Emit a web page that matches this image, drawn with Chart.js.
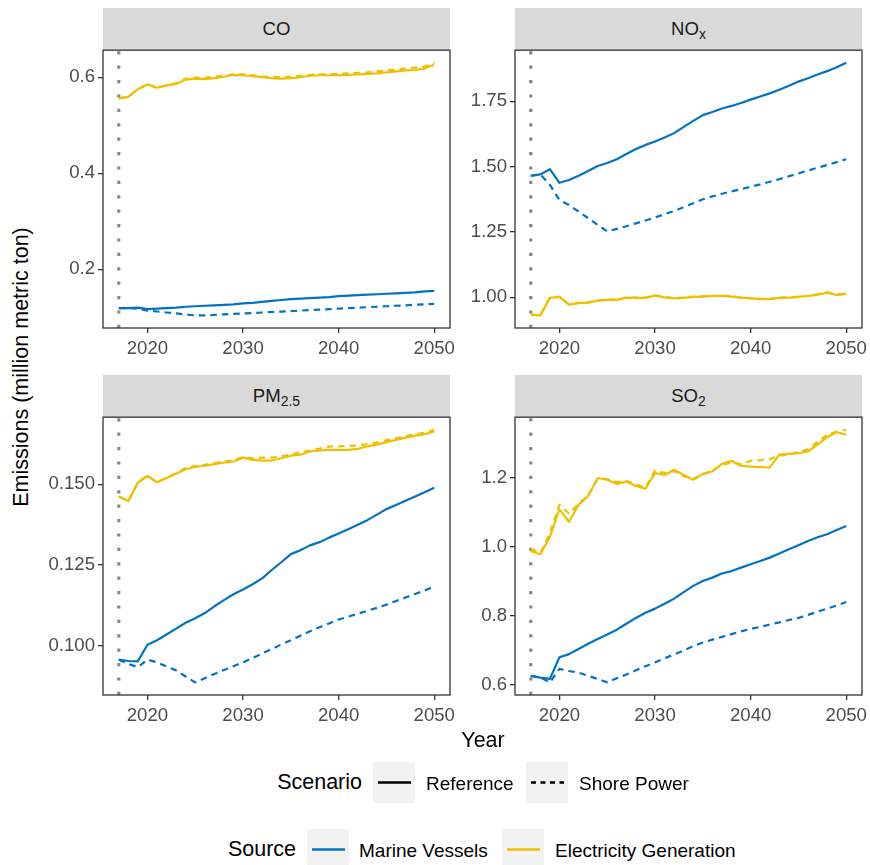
<!DOCTYPE html>
<html>
<head>
<meta charset="utf-8">
<script src="https://cdn.jsdelivr.net/npm/chart.js@4.4.1/dist/chart.umd.min.js"></script>
<style>
body { margin: 0; background: #fff; font-family: "Liberation Sans", Arial, sans-serif; }
#wrap { position: relative; width: 870px; height: 865px; overflow: hidden; background: #fff; }
.strip { position: absolute; background: #d9d9d9; color: #1a1a1a; font-size: 18.6px; text-align: center; }
.strip span { position: absolute; left: 0; right: 0; top: 50%; transform: translateY(-50%); line-height: 1; }
sub { font-size: 0.75em; vertical-align: -0.3em; line-height: 0; }
.pane { position: absolute; }
.txt { position: absolute; white-space: nowrap; color: #000; line-height: 1; transform: translateY(-50%); }
.txt.right { transform: translate(-100%, -50%); }
.key { position: absolute; background: #f2f2f2; width: 42px; height: 41px; }
.key svg { position: absolute; left: 0; top: 0; }
</style>
</head>
<body>
<div id="wrap">
  <div class="strip" style="left:103px;top:8px;width:347px;height:42px"><span>CO</span></div>
  <div class="strip" style="left:515px;top:8px;width:347px;height:42px"><span>NO<sub>x</sub></span></div>
  <div class="strip" style="left:103px;top:375px;width:347px;height:42px"><span>PM<sub>2.5</sub></span></div>
  <div class="strip" style="left:515px;top:375px;width:347px;height:42px"><span>SO<sub>2</sub></span></div>

  <div class="pane" id="p1"><canvas id="c1"></canvas></div>
  <div class="pane" id="p2"><canvas id="c2"></canvas></div>
  <div class="pane" id="p3"><canvas id="c3"></canvas></div>
  <div class="pane" id="p4"><canvas id="c4"></canvas></div>

  <div class="txt" style="left:22px;top:367px;font-size:21.5px;transform:translate(-50%,-50%) rotate(-90deg)">Emissions (million metric ton)</div>
  <div class="txt" style="left:483px;top:741px;font-size:21.5px;transform:translate(-50%,-50%)">Year</div>

  <div class="txt right" style="left:362px;top:783px;font-size:21.5px">Scenario</div>
  <div class="key" style="left:373px;top:762px"><svg width="42" height="41"><line x1="5" y1="20.5" x2="38" y2="20.5" stroke="#000" stroke-width="2.3"/></svg></div>
  <div class="txt" style="left:426px;top:783px;font-size:19px">Reference</div>
  <div class="key" style="left:526px;top:762px"><svg width="42" height="41"><line x1="5" y1="20.5" x2="38" y2="20.5" stroke="#000" stroke-width="2.3" stroke-dasharray="5 4.5"/></svg></div>
  <div class="txt" style="left:579px;top:783px;font-size:19px">Shore Power</div>

  <div class="txt right" style="left:296px;top:850px;font-size:21.5px">Source</div>
  <div class="key" style="left:307px;top:829px"><svg width="42" height="41"><line x1="5" y1="20.5" x2="38" y2="20.5" stroke="#0073C2" stroke-width="2.3"/></svg></div>
  <div class="txt" style="left:359px;top:850px;font-size:19px">Marine Vessels</div>
  <div class="key" style="left:502px;top:829px"><svg width="42" height="41"><line x1="5" y1="20.5" x2="38" y2="20.5" stroke="#EFC000" stroke-width="2.3"/></svg></div>
  <div class="txt" style="left:555px;top:850px;font-size:19px">Electricity Generation</div>
</div>

<script>
const years = [2017, 2018, 2019, 2020, 2021, 2022, 2023, 2024, 2025, 2026, 2027, 2028, 2029, 2030, 2031, 2032, 2033,
    2034, 2035, 2036, 2037, 2038, 2039, 2040, 2041, 2042, 2043, 2044, 2045, 2046, 2047, 2048, 2049, 2050];
const baseYear = 2017;
const xTicks = [2020, 2030, 2040, 2050];

// CO
const coMarineRef = [0.119, 0.119, 0.120, 0.117, 0.118, 0.119, 0.120, 0.122, 0.123, 0.124, 0.125, 0.126, 0.127, 0.129, 0.130, 0.132, 0.134,
    0.136, 0.138, 0.139, 0.140, 0.141, 0.142, 0.144, 0.145, 0.146, 0.147, 0.148, 0.149, 0.150, 0.151, 0.152, 0.154, 0.155];
const coMarineShore = [0.119, 0.119, 0.118, 0.114, 0.112, 0.110, 0.108, 0.106, 0.104, 0.104, 0.105, 0.106, 0.107, 0.108, 0.109, 0.110, 0.111,
    0.112, 0.113, 0.114, 0.115, 0.116, 0.117, 0.118, 0.119, 0.120, 0.121, 0.122, 0.123, 0.124, 0.125, 0.126, 0.127, 0.128];
const coElecRef = [0.556, 0.559, 0.575, 0.585, 0.578, 0.583, 0.586, 0.595, 0.597, 0.596, 0.598, 0.601, 0.605, 0.604, 0.602, 0.600, 0.598,
    0.597, 0.598, 0.600, 0.603, 0.604, 0.604, 0.604, 0.605, 0.606, 0.607, 0.608, 0.610, 0.612, 0.614, 0.615, 0.618, 0.626];
const coElecShore = [0.556, 0.559, 0.575, 0.585, 0.578, 0.583, 0.587, 0.597, 0.599, 0.599, 0.601, 0.603, 0.606, 0.606, 0.604, 0.602, 0.601,
    0.600, 0.601, 0.603, 0.605, 0.606, 0.606, 0.607, 0.608, 0.609, 0.610, 0.612, 0.614, 0.616, 0.618, 0.620, 0.622, 0.630];
const coTicks = [0.2, 0.4, 0.6];
const coTickLabels = ['0.2', '0.4', '0.6'];

// NOx
const noxMarineRef = [1.465, 1.470, 1.490, 1.438, 1.449, 1.465, 1.483, 1.502, 1.514, 1.528, 1.548, 1.567, 1.583, 1.596, 1.611, 1.628, 1.652,
    1.675, 1.697, 1.709, 1.722, 1.732, 1.743, 1.756, 1.768, 1.780, 1.794, 1.809, 1.825, 1.838, 1.852, 1.865, 1.880, 1.897];
const noxMarineShore = [1.465, 1.470, 1.430, 1.372, 1.353, 1.328, 1.303, 1.277, 1.252, 1.262, 1.272, 1.283, 1.294, 1.305, 1.318, 1.330, 1.345,
    1.360, 1.375, 1.386, 1.396, 1.405, 1.414, 1.423, 1.432, 1.442, 1.452, 1.463, 1.474, 1.485, 1.496, 1.506, 1.517, 1.528];
const noxElecRef = [0.934, 0.931, 0.998, 1.002, 0.972, 0.978, 0.980, 0.987, 0.990, 0.990, 0.998, 0.998, 0.998, 1.007, 1.000, 0.996, 0.998,
    1.002, 1.003, 1.005, 1.006, 1.003, 0.999, 0.996, 0.993, 0.993, 0.998, 0.999, 1.002, 1.005, 1.010, 1.018, 1.009, 1.013];
const noxElecShore = [0.934, 0.931, 0.999, 1.003, 0.973, 0.979, 0.981, 0.988, 0.991, 0.991, 0.999, 0.999, 0.999, 1.008, 1.001, 0.997, 0.999,
    1.003, 1.004, 1.006, 1.007, 1.004, 1.000, 0.997, 0.994, 0.994, 0.999, 1.000, 1.003, 1.006, 1.011, 1.019, 1.010, 1.014];
const noxTicks = [1.00, 1.25, 1.50, 1.75];
const noxTickLabels = ['1.00', '1.25', '1.50', '1.75'];

// PM2.5
const pmMarineRef = [0.0958, 0.0954, 0.0953, 0.1004, 0.1018, 0.1036, 0.1054, 0.1072, 0.1086, 0.1102, 0.1123, 0.1142, 0.1160, 0.1175, 0.1191,
    0.1209, 0.1235, 0.1259, 0.1284, 0.1296, 0.1311, 0.1321, 0.1335, 0.1348, 0.1361, 0.1375, 0.1389, 0.1406, 0.1423, 0.1436, 0.1449, 0.1462,
    0.1475, 0.1489];
const pmMarineShore = [0.0958, 0.0945, 0.0935, 0.0958, 0.0950, 0.0937, 0.0925, 0.0906, 0.0888, 0.0901, 0.0914, 0.0926, 0.0938, 0.0950, 0.0963,
    0.0977, 0.0991, 0.1005, 0.1018, 0.1032, 0.1046, 0.1058, 0.1070, 0.1082, 0.1091, 0.1100, 0.1109, 0.1118, 0.1128, 0.1139, 0.1150, 0.1161,
    0.1172, 0.1183];
const pmElecRef = [0.1462, 0.1448, 0.1505, 0.1526, 0.1506, 0.1519, 0.1532, 0.1546, 0.1553, 0.1557, 0.1562, 0.1567, 0.1570, 0.1582, 0.1575,
    0.1573, 0.1573, 0.1580, 0.1588, 0.1591, 0.1601, 0.1604, 0.1606, 0.1606, 0.1606, 0.1609, 0.1617, 0.1622, 0.1630, 0.1637, 0.1644, 0.1650,
    0.1654, 0.1663];
const pmElecShore = [0.1462, 0.1448, 0.1505, 0.1526, 0.1506, 0.1520, 0.1534, 0.1550, 0.1556, 0.1560, 0.1565, 0.1570, 0.1574, 0.1584, 0.1580,
    0.1582, 0.1582, 0.1586, 0.1592, 0.1598, 0.1604, 0.1610, 0.1616, 0.1617, 0.1618, 0.1619, 0.1624, 0.1629, 0.1636, 0.1642, 0.1648, 0.1654,
    0.1659, 0.1668];
const pmTicks = [0.100, 0.125, 0.150];
const pmTickLabels = ['0.100', '0.125', '0.150'];

// SO2
const so2MarineRef = [0.626, 0.621, 0.617, 0.680, 0.689, 0.704, 0.719, 0.733, 0.746, 0.760, 0.777, 0.794, 0.809, 0.821, 0.835, 0.850, 0.869,
    0.887, 0.901, 0.911, 0.923, 0.930, 0.940, 0.950, 0.959, 0.969, 0.981, 0.993, 1.005, 1.017, 1.028, 1.037, 1.049, 1.061];
const so2MarineShore = [0.626, 0.621, 0.607, 0.646, 0.640, 0.635, 0.626, 0.617, 0.607, 0.619, 0.630, 0.642, 0.654, 0.665, 0.677, 0.688, 0.700,
    0.712, 0.723, 0.731, 0.739, 0.747, 0.755, 0.762, 0.768, 0.775, 0.781, 0.788, 0.794, 0.803, 0.812, 0.821, 0.830, 0.840];
const so2ElecRef = [0.988, 0.979, 1.029, 1.109, 1.073, 1.122, 1.148, 1.200, 1.195, 1.183, 1.190, 1.177, 1.169, 1.214, 1.209, 1.224, 1.209,
    1.195, 1.212, 1.219, 1.241, 1.250, 1.235, 1.233, 1.232, 1.230, 1.268, 1.270, 1.272, 1.277, 1.297, 1.319, 1.333, 1.326];
const so2ElecShore = [0.995, 0.982, 1.040, 1.122, 1.097, 1.125, 1.150, 1.198, 1.197, 1.188, 1.192, 1.182, 1.172, 1.222, 1.215, 1.220, 1.205,
    1.198, 1.210, 1.222, 1.238, 1.245, 1.240, 1.250, 1.252, 1.255, 1.265, 1.268, 1.275, 1.283, 1.305, 1.325, 1.335, 1.340];
const so2Ticks = [0.6, 0.8, 1.0, 1.2];
const so2TickLabels = ['0.6', '0.8', '1.0', '1.2'];

const blue = '#0073C2';
const yellow = '#EFC000';
const dashPattern = [6.5, 5];

// space kept round each plot area for its axes
const yAxisW = 62, xAxisH = 34, padTop = 14, padRight = 16;

const borderPlugin = {
    id: 'panelBorder',
    afterDatasetsDraw(chart) {
        const a = chart.chartArea;
        const ctx = chart.ctx;
        ctx.save();
        ctx.strokeStyle = '#333333';
        ctx.lineWidth = 1.3;
        ctx.strokeRect(a.left, a.top, a.right - a.left, a.bottom - a.top);
        ctx.restore();
    }
};

function toPoints(vals) {
    return years.map((y, i) => ({ x: y, y: vals[i] }));
}

function makePanel(canvasId, paneId, box, marineRef, marineShore, elecRef, elecShore, yTicks, yLabels) {
    const all = marineRef.concat(marineShore, elecRef, elecShore);
    const lo = Math.min(...all), hi = Math.max(...all);
    const yMin = lo - (hi - lo) * 0.05, yMax = hi + (hi - lo) * 0.05;
    const span = years[years.length - 1] - years[0];
    const xMin = years[0] - span * 0.05;
    const xMax = years[years.length - 1] + span * 0.05;

    const pane = document.getElementById(paneId);
    const w = yAxisW + box.w + padRight;
    const h = padTop + box.h + xAxisH;
    pane.style.left = (box.x - yAxisW) + 'px';
    pane.style.top = (box.y - padTop) + 'px';
    const cv = document.getElementById(canvasId);
    cv.width = w; cv.height = h;
    cv.style.width = w + 'px'; cv.style.height = h + 'px';

    const line = (vals, color, dashed) => ({
        data: toPoints(vals),
        borderColor: color,
        borderWidth: 2.2,
        borderDash: dashed ? dashPattern : [],
        borderCapStyle: 'butt',
        borderJoinStyle: 'round',
        pointRadius: 0,
        tension: 0,
        fill: false
    });

    new Chart(cv.getContext('2d'), {
        type: 'line',
        data: {
            datasets: [
                line(elecShore, yellow, true),
                line(elecRef, yellow, false),
                line(marineShore, blue, true),
                line(marineRef, blue, false),
                {
                    data: [{ x: baseYear, y: yMin }, { x: baseYear, y: yMax }],
                    borderColor: '#888888',
                    borderWidth: 3.2,
                    borderDash: [3.2, 11.2],
                    borderCapStyle: 'butt',
                    pointRadius: 0
                }
            ]
        },
        options: {
            responsive: false,
            animation: false,
            layout: { padding: { left: 0, top: padTop, right: padRight, bottom: 0 } },
            plugins: { legend: { display: false }, tooltip: { enabled: false } },
            scales: {
                x: {
                    type: 'linear',
                    min: xMin,
                    max: xMax,
                    afterBuildTicks: (s) => { s.ticks = xTicks.map(v => ({ value: v })); },
                    afterFit: (s) => { s.height = xAxisH; },
                    ticks: {
                        callback: (v) => String(v),
                        color: '#4d4d4d',
                        font: { family: 'Liberation Sans', size: 18.6 },
                        padding: 5,
                        maxRotation: 0
                    },
                    grid: { drawOnChartArea: false, drawTicks: true, tickLength: 5, color: '#333333', lineWidth: 1.3 },
                    border: { display: false }
                },
                y: {
                    min: yMin,
                    max: yMax,
                    afterBuildTicks: (s) => { s.ticks = yTicks.map(v => ({ value: v })); },
                    afterFit: (s) => { s.width = yAxisW; },
                    ticks: {
                        callback: (v) => yLabels[yTicks.indexOf(v)],
                        color: '#4d4d4d',
                        font: { family: 'Liberation Sans', size: 18.6 },
                        padding: 3
                    },
                    grid: { drawOnChartArea: false, drawTicks: true, tickLength: 5, color: '#333333', lineWidth: 1.3 },
                    border: { display: false }
                }
            }
        },
        plugins: [borderPlugin]
    });
}

makePanel('c1', 'p1', { x: 103, y: 50, w: 347, h: 278 }, coMarineRef, coMarineShore, coElecRef, coElecShore, coTicks, coTickLabels);
makePanel('c2', 'p2', { x: 515, y: 50, w: 347, h: 278 }, noxMarineRef, noxMarineShore, noxElecRef, noxElecShore, noxTicks, noxTickLabels);
makePanel('c3', 'p3', { x: 103, y: 417, w: 347, h: 278 }, pmMarineRef, pmMarineShore, pmElecRef, pmElecShore, pmTicks, pmTickLabels);
makePanel('c4', 'p4', { x: 515, y: 417, w: 347, h: 278 }, so2MarineRef, so2MarineShore, so2ElecRef, so2ElecShore, so2Ticks, so2TickLabels);
</script>
</body>
</html>
